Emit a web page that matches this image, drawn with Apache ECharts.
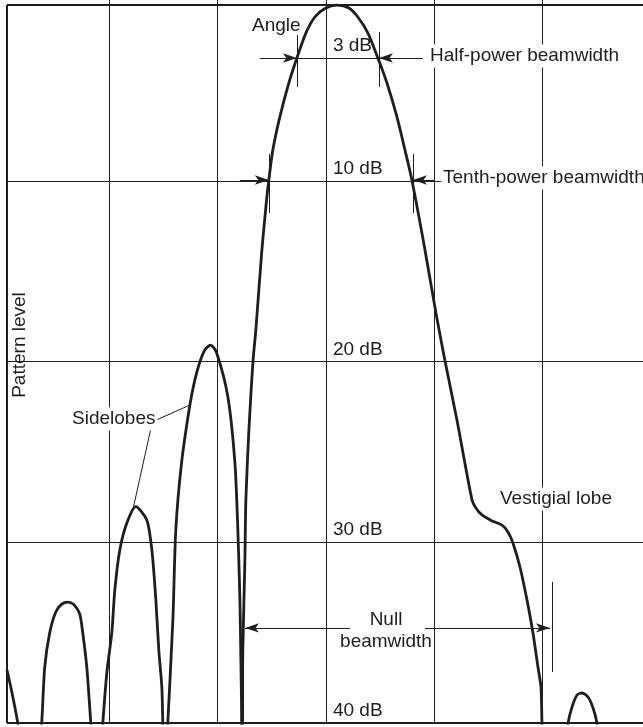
<!DOCTYPE html>
<html>
<head>
<meta charset="utf-8">
<title>Antenna pattern</title>
<script src="https://cdn.jsdelivr.net/npm/echarts@6/dist/echarts.min.js"></script>
<style>
  html, body { margin: 0; padding: 0; background: #fff; }
  #chart { width: 643px; height: 727px; }
</style>
</head>
<body>
<div id="chart"></div>
<script>
// angle in grid divisions (0 = centre line), level in dB below the peak
// points past 40 dB are nulls and get clipped at the bottom edge
const farLeftLobe = [[-2.945, 37.07], [-2.90, 38.28], [-2.845, 40], [-2.825, 41]];
const sidelobe3 = [[-2.64, 41], [-2.624, 40], [-2.596, 36.9], [-2.550, 35.0], [-2.494, 33.86],
  [-2.439, 33.42], [-2.383, 33.31], [-2.328, 33.45], [-2.273, 33.97], [-2.245, 35.02],
  [-2.208, 36.9], [-2.171, 40], [-2.16, 41]];
const sidelobe2 = [[-2.07, 41], [-2.060, 40], [-2.023, 37.23], [-1.977, 35.02], [-1.949, 32.64],
  [-1.903, 30.43], [-1.838, 28.94], [-1.755, 28.03], [-1.654, 28.77], [-1.607, 30.43],
  [-1.570, 33.2], [-1.543, 35.96], [-1.515, 38.01], [-1.506, 40], [-1.50, 41]];
const sidelobe1 = [[-1.47, 41], [-1.460, 40], [-1.413, 34.3], [-1.386, 29.32], [-1.333, 25.62],
  [-1.256, 22.41], [-1.210, 21.02], [-1.164, 20.03], [-1.118, 19.36], [-1.065, 19.09],
  [-1.010, 19.5], [-0.905, 21.96], [-0.840, 25.62], [-0.813, 29.32], [-0.794, 33.2],
  [-0.785, 36.51], [-0.776, 40], [-0.773, 41]];
const mainLobe = [[-0.779, 41], [-0.776, 40], [-0.767, 35.96], [-0.748, 30.98], [-0.739, 27.66],
  [-0.711, 23.79], [-0.674, 20.03], [-0.647, 18.26], [-0.591, 13.83], [-0.548, 11.07],
  [-0.527, 9.96], [-0.490, 8.30], [-0.425, 6.47], [-0.342, 4.59], [-0.268, 3.21],
  [-0.185, 1.83], [-0.102, 0.94], [-0.009, 0.47], [0.102, 0.28], [0.213, 0.44],
  [0.295, 0.94], [0.388, 1.83], [0.480, 3.21], [0.564, 4.59], [0.656, 6.47],
  [0.730, 8.30], [0.794, 9.96], [0.915, 13.83], [1.016, 17.32],
  [1.100, 19.97], [1.210, 23.24], [1.349, 27.66], [1.385, 28.1], [1.441, 28.49],
  [1.534, 28.82], [1.626, 29.05], [1.681, 29.43], [1.727, 30.04], [1.792, 31.37],
  [1.857, 33.2], [1.912, 35.02], [1.958, 36.9], [1.986, 38.01], [1.995, 40], [2.0, 41]];
const farRightLobe = [[2.217, 41], [2.236, 40], [2.273, 39.11], [2.319, 38.45], [2.365, 38.34],
  [2.420, 38.56], [2.467, 39.17], [2.503, 40], [2.52, 41]];

// level markers written on the centre line
const levelValues = [3.21, 10, 20, 30, 40];
const levelLabels = ['3 dB', '10 dB', '20 dB', '30 dB', '40 dB'];

// beamwidth markers: [left angle, right angle, level]
const halfPower = [-0.268, 0.490, 3.21];
const tenthPower = [-0.527, 0.804, 9.96];
const nullWidth = [-0.767, 2.069, 34.74];

const X_MIN = -3, X_MAX = 2.928;
const INK = '#1e1e1e';
const FONT = '"Liberation Sans", Arial, sans-serif';
const FS = 19;

const chart = echarts.init(document.getElementById('chart'));

function lobe(data) {
  return {
    type: 'line', data: data, smooth: 0.25, symbol: 'none', clip: true, silent: true,
    lineStyle: { color: INK, width: 2.8 }, z: 5
  };
}
function seg(a, b, arrow) {
  return [{ coord: a, symbol: 'none' }, { coord: b, symbol: arrow ? 'arrow' : 'none' }];
}

const annotationLines = [
  // frame
  seg([-2.945, 0.28], [X_MAX, 0.28]),
  seg([-2.945, 0.28], [-2.945, 40]),
  seg([-2.945, 40], [X_MAX, 40]),
  // half-power
  seg([-0.610, halfPower[2]], [halfPower[0], halfPower[2]], true),
  seg([0.896, halfPower[2]], [halfPower[1], halfPower[2]], true),
  seg([halfPower[0], halfPower[2]], [halfPower[1], halfPower[2]]),
  seg([halfPower[0], 1.94], [halfPower[0], 4.81]),
  seg([halfPower[1], 1.77], [halfPower[1], 4.81]),
  // tenth-power
  seg([-0.794, tenthPower[2]], [tenthPower[0], tenthPower[2]], true),
  seg([1.007, tenthPower[2]], [tenthPower[1], tenthPower[2]], true),
  seg([tenthPower[0], 8.52], [tenthPower[0], 11.78]),
  seg([tenthPower[1], 8.52], [tenthPower[1], 11.78]),
  // null beamwidth
  seg([0.222, nullWidth[2]], [nullWidth[0] + 0.02, nullWidth[2]], true),
  seg([0.915, nullWidth[2]], [nullWidth[1], nullWidth[2]], true),
  seg([nullWidth[0], 32.64], [nullWidth[0], 40]),
  seg([2.088, 32.2], [2.088, 37.18]),
  // sidelobe leaders
  seg([-1.607, 23.35], [-1.256, 22.41]),
  seg([-1.607, 23.46], [-1.783, 28.22])
];

const frameIdx = [0, 1, 2];
annotationLines.forEach(function (d, i) {
  const w = frameIdx.indexOf(i) >= 0 ? 2 : 1;
  d[0].lineStyle = { width: w, color: INK, type: 'solid' };
});

const mainSeries = lobe(mainLobe);
mainSeries.markLine = {
  silent: true, animation: false, symbolSize: [7, 14],
  label: { show: false },
  lineStyle: { color: INK, width: 1, type: 'solid' },
  data: annotationLines
};
mainSeries.markPoint = {
  silent: true, animation: false, symbol: 'circle', symbolSize: 0,
  data: levelValues.map(function (v, i) {
    return {
      coord: [0.065, v],
      label: {
        show: true, formatter: levelLabels[i], position: 'right', distance: 0,
        offset: [0, -12], color: INK, fontSize: FS, fontFamily: FONT
      }
    };
  })
};

function txt(text, x, y, extra) {
  const style = Object.assign({
    text: text, x: x, y: y, fill: INK, font: FS + 'px ' + FONT,
    textAlign: 'left', textVerticalAlign: 'middle'
  }, extra || {});
  return { type: 'text', z: 50, silent: true, style: style };
}
const bg = { backgroundColor: '#fff', padding: [2, 2] };

chart.setOption({
  animation: false,
  backgroundColor: '#fff',
  grid: { left: 1, right: 0, top: 0, bottom: 4 },
  xAxis: {
    type: 'value', min: X_MIN, max: X_MAX, interval: 1,
    axisLine: { show: false }, axisTick: { show: false }, axisLabel: { show: false },
    splitLine: { show: true, showMinLine: false, showMaxLine: false, lineStyle: { color: '#222', width: 1 } }
  },
  yAxis: {
    type: 'value', inverse: true, min: 0, max: 40, interval: 10,
    axisLine: { show: false }, axisTick: { show: false }, axisLabel: { show: false },
    splitLine: { show: true, showMinLine: false, showMaxLine: false, lineStyle: { color: '#222', width: 1 } }
  },
  series: [
    lobe(farLeftLobe), lobe(sidelobe3), lobe(sidelobe2), lobe(sidelobe1),
    mainSeries, lobe(farRightLobe)
  ],
  graphic: [
    // blank margin left of the frame
    { type: 'rect', z: 1, silent: true, shape: { x: 0, y: 0, width: 6, height: 727 }, style: { fill: '#fff' } },
    txt('Angle', 252, 26),
    txt('Half-power beamwidth', 428, 56, bg),
    txt('Tenth-power beamwidth', 441, 178, bg),
    txt('Null', 386, 620, { textAlign: 'center' }),
    txt('beamwidth', 386, 642, { textAlign: 'center' }),
    txt('Vestigial lobe', 498, 499, bg),
    txt('Sidelobes', 70, 419, bg),
    {
      type: 'text', z: 50, silent: true, x: 20, y: 345, rotation: Math.PI / 2,
      style: { text: 'Pattern level', fill: INK, font: FS + 'px ' + FONT, textAlign: 'center', textVerticalAlign: 'middle' }
    }
  ]
});
</script>
</body>
</html>
